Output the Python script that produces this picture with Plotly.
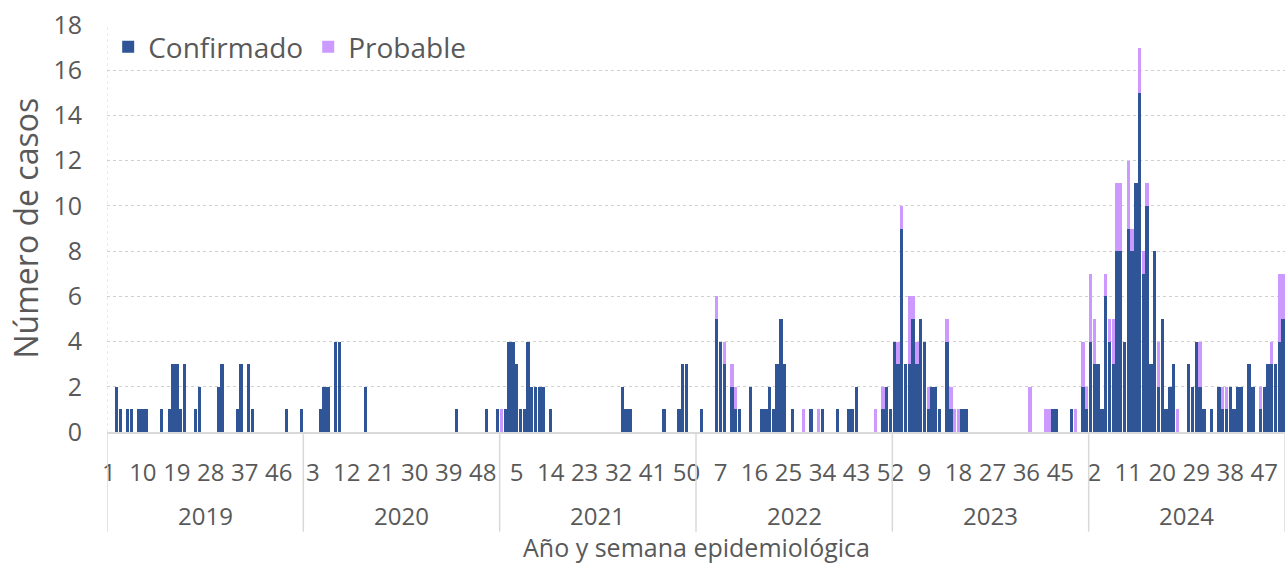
import plotly.graph_objects as go

years = [2019, 2020, 2021, 2022, 2023, 2024]
weeks = list(range(1, 53))

confirmado_2019 = [0,0,2,1,0,1,1,0,1,1, 1,0,0,0,1,0,1,3,3,1, 3,0,0,1,2,0,0,0,0,2,
                   3,0,0,0,1,3,0,3,1,0, 0,0,0,0,0,0,0,1,0,0, 0,1]
probable_2019 = [0]*52

confirmado_2020 = [0,0,0,0,1,2,2,0,4,4, 0,0,0,0,0,0,2,0,0,0, 0,0,0,0,0,0,0,0,0,0,
                   0,0,0,0,0,0,0,0,0,0, 1,0,0,0,0,0,0,0,1,0, 0,1]
probable_2020 = [0]*52

confirmado_2021 = [0,1,4,4,3,1,1,4,2,2, 2,2,0,1,0,0,0,0,0,0, 0,0,0,0,0,0,0,0,0,0,
                   0,0,2,1,1,0,0,0,0,0, 0,0,0,1,0,0,0,1,3,3, 0,0]
probable_2021 = [1,0,0,0,0,0,0,0,0,0, 0,0,0,0,0,0,0,0,0,0, 0,0,0,0,0,0,0,0,0,0,
                 0,0,0,0,0,0,0,0,0,0, 0,0,0,0,0,0,0,0,0,0, 0,0]

confirmado_2022 = [0,1,0,0,0,5,4,3,0,2, 1,1,0,0,2,0,0,1,1,2, 1,3,5,3,0,1,0,0,0,0,
                   1,0,0,1,0,0,0,1,0,0, 1,1,2,0,0,0,0,0,0,1, 2,1]
probable_2022 = [0,0,0,0,0,1,0,1,0,1, 1,0,0,0,0,0,0,0,0,0, 0,0,0,0,0,0,0,0,1,0,
                 0,0,1,0,0,0,0,0,0,0, 0,0,0,0,0,0,0,1,0,1, 0,0]

confirmado_2023 = [4,3,9,3,3,5,3,5,4,1, 2,2,1,0,4,1,0,0,1,1, 0,0,0,0,0,0,0,0,0,0,
                   0,0,0,0,0,0,0,0,0,0, 0,0,1,1,0,0,0,1,0,0, 2,1]
probable_2023 = [0,1,1,0,3,1,1,0,0,1, 0,0,0,0,1,1,1,1,0,0, 0,0,0,0,0,0,0,0,0,0,
                 0,0,0,0,0,0,2,0,0,0, 1,1,0,0,0,0,0,0,1,0, 2,1]

confirmado_2024 = [4,3,3,1,6,4,3,8,8,4, 9,8,11,15,7,10,3,8,2,5, 1,2,3,0,0,0,3,2,4,2,
                   1,0,1,0,2,1,1,2,1,2, 2,0,3,2,0,1,2,3,3,3, 4,5]
probable_2024 = [3,2,0,0,1,1,2,3,3,0, 3,1,0,2,1,1,0,0,2,0, 0,0,0,1,0,0,0,0,0,2,
                 0,0,0,0,0,1,1,0,0,0, 0,0,0,0,0,1,0,0,1,0, 3,2]

confirmado = (confirmado_2019 + confirmado_2020 + confirmado_2021 +
              confirmado_2022 + confirmado_2023 + confirmado_2024)
probable = (probable_2019 + probable_2020 + probable_2021 +
            probable_2022 + probable_2023 + probable_2024)

categories = [f"{y}-S{w:02d}" for y in years for w in weeks]
week_of_cat = [w for y in years for w in weeks]

tick_step = 9
tickvals = categories[::tick_step]
ticktext = [str(w) for w in week_of_cat[::tick_step]]

BLUE = "#2F5597"
PURPLE = "#CC99FF"
GREY = "#595959"
FONT = "Open Sans"

fig = go.Figure()
fig.add_bar(x=categories, y=confirmado, name="Confirmado", marker_color=BLUE,
            marker_line_width=0)
fig.add_bar(x=categories, y=probable, name="Probable", marker_color=PURPLE,
            marker_line_width=0)

n = len(categories)
shapes = []
for k in range(len(years) + 1):
    xpos = k * len(weeks) - 0.5
    shapes.append(dict(type="line", xref="x", yref="paper", x0=xpos, x1=xpos,
                       y0=0, y1=-0.245, line=dict(color="#d9d9d9", width=1.5)))
shapes.append(dict(type="line", xref="x", yref="paper", x0=-0.5, x1=-0.5, y0=0, y1=1,
                   line=dict(color="#d9d9d9", width=1, dash="dot")))

annotations = []
for k, y in enumerate(years):
    annotations.append(dict(x=k * len(weeks) + (len(weeks) - 1) / 2, y=-0.205,
                            xref="x", yref="paper", text=str(y), showarrow=False,
                            font=dict(size=24, color=GREY, family=FONT),
                            xanchor="center", yanchor="middle"))
annotations.append(dict(x=0.5, y=-0.282, xref="paper", yref="paper",
                        text="Año y semana epidemiológica", showarrow=False,
                        font=dict(size=25, color=GREY, family=FONT),
                        xanchor="center", yanchor="middle"))
annotations.append(dict(x=-0.0696, y=0.5, xref="paper", yref="paper",
                        text="Número de casos", showarrow=False, textangle=-90,
                        font=dict(size=32, color=GREY, family=FONT),
                        xanchor="center", yanchor="middle"))

fig.update_layout(
    width=1288, height=566,
    margin=dict(l=107, r=3, t=25, b=134),
    barmode="stack", bargap=0.1,
    plot_bgcolor="white", paper_bgcolor="white",
    font=dict(family=FONT, color=GREY),
    showlegend=True,
    legend=dict(orientation="h", x=0.001, y=0.946, xanchor="left", yanchor="middle",
                font=dict(size=28, color=GREY, family=FONT),
                bgcolor="rgba(0,0,0,0)", itemwidth=30, traceorder="normal"),
    shapes=shapes, annotations=annotations,
    xaxis=dict(type="category", categoryorder="array", categoryarray=categories,
               range=[-0.5, n - 0.5], tickmode="array", tickvals=tickvals,
               ticktext=ticktext, tickangle=0, showgrid=False, showline=True,
               linecolor="#d9d9d9", linewidth=1.5, ticks="", zeroline=False,
               tickfont=dict(size=24, color=GREY, family=FONT),
               ticklabelstandoff=18),
    yaxis=dict(range=[0, 18], dtick=2, tick0=0, showgrid=True, gridcolor="#d0d0d0",
               griddash="dot", gridwidth=1, zeroline=False, showline=False,
               ticks="", tickfont=dict(size=25, color=GREY, family=FONT),
               ticklabelstandoff=24),
)

fig.write_html("out.html", config={"displayModeBar": False},
               post_script="document.body.style.margin='0';document.body.style.padding='0';")
